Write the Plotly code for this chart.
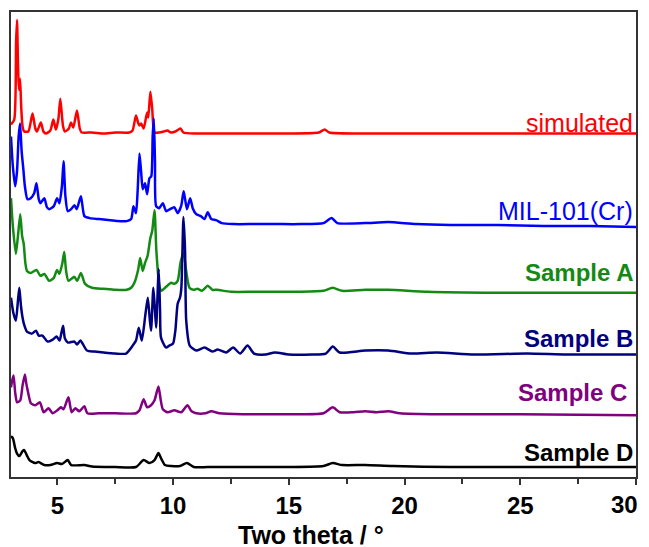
import plotly.graph_objects as go

# ---- data (two theta in degrees, offset intensities in a.u.) ----
x_sim = [3.00, 3.14, 3.22, 3.26, 3.30, 3.34, 3.39, 3.44, 3.50, 3.57, 3.75, 3.93, 4.05, 4.12, 4.29, 4.40, 4.51,
         4.70, 4.83, 4.94, 5.05, 5.13, 5.25, 5.33, 5.50, 5.59, 5.69, 5.85, 5.97, 6.05, 6.5, 7.0, 7.5, 8.11,
         8.25, 8.40, 8.50, 8.55, 8.62, 8.73, 8.88, 8.93, 9.02, 9.10, 9.20, 9.40, 9.60, 9.76, 9.90, 10.10,
         10.32, 10.45, 11.0, 12.0, 13.0, 14.0, 15.0, 16.3, 16.55, 16.75, 18.0, 20.0, 22.0, 24.0, 26.0, 28.0, 30.0]
y_sim = [354, 359, 437, 459, 417, 389, 400, 372, 352, 347, 347, 365, 350, 347, 356, 347, 345,
         348, 359, 349, 360, 380, 352, 347, 350, 356, 351, 368, 350, 346, 346, 345, 346, 346,
         348, 363, 355, 353, 355, 350, 366, 361, 387, 370, 346, 346, 347, 348, 346, 347,
         350, 346, 345, 345, 345, 345, 345, 346, 349, 346, 345, 345, 345, 345, 345, 345, 345]

x_mil = [3.00, 3.08, 3.18, 3.26, 3.33, 3.39, 3.46, 3.53, 3.60, 3.71, 3.85, 4.00, 4.10, 4.20, 4.27, 4.44,
         4.55, 4.65, 4.85, 4.99, 5.09, 5.20, 5.27, 5.35, 5.45, 5.60, 5.74, 5.84, 6.02, 6.17, 6.40, 6.8,
         7.2, 7.6, 8.0, 8.19, 8.29, 8.40, 8.47, 8.55, 8.62, 8.69, 8.79, 8.88, 8.98, 9.06, 9.12, 9.17,
         9.22, 9.27, 9.40, 9.56, 9.70, 9.87, 10.05, 10.20, 10.35, 10.46, 10.60, 10.74, 10.85, 11.00,
         11.20, 11.36, 11.50, 11.65, 11.86, 12.1, 12.6, 13.5, 14.5, 15.5, 16.5, 16.85, 17.1, 18.3,
         19.3, 20.5, 22.0, 24.0, 26.0, 28.0, 30.0]
y_mil = [342, 312, 292, 307, 342, 355, 327, 310, 292, 279, 280, 285, 295, 279, 275, 280,
         271, 269, 272, 280, 275, 292, 317, 282, 267, 269, 273, 269, 282, 262, 260, 259,
         258, 257, 257, 259, 272, 265, 287, 325, 307, 289, 295, 284, 300, 302, 342, 360,
         317, 272, 270, 275, 267, 269, 271, 265, 272, 287, 269, 280, 270, 264,
         262, 259, 266, 259, 258, 255, 254, 254, 254, 254, 255, 260, 255, 255,
         256, 254, 253, 253, 252, 252, 251]

x_a = [3.00, 3.08, 3.21, 3.30, 3.40, 3.48, 3.55, 3.62, 3.69, 3.85, 4.10, 4.27, 4.44, 4.65, 4.85, 4.99,
       5.09, 5.22, 5.30, 5.38, 5.48, 5.74, 5.86, 6.02, 6.20, 6.5, 7.0, 7.5, 8.0, 8.19, 8.33, 8.50,
       8.58, 8.69, 8.79, 8.90, 9.02, 9.10, 9.20, 9.28, 9.41, 9.50, 9.70, 9.92, 10.06, 10.20, 10.32,
       10.40, 10.46, 10.55, 10.71, 10.89, 11.05, 11.25, 11.50, 11.70, 11.90, 12.5, 13.5, 14.5, 15.5,
       16.5, 16.9, 17.3, 18.3, 19.3, 21.0, 24.0, 27.0, 30.0]
y_a = [280, 252, 224, 242, 264, 242, 234, 215, 207, 205, 208, 202, 204, 197, 200, 208,
       204, 215, 226, 207, 197, 201, 197, 205, 194, 190, 189, 188, 188, 190, 195, 209,
       220, 207, 215, 222, 240, 247, 268, 227, 192, 187, 191, 195, 194, 197, 215,
       222, 225, 210, 190, 188, 189, 187, 192, 188, 188, 186, 186, 186, 186,
       187, 190, 187, 188, 188, 186, 185, 185, 185]

x_b = [3.00, 3.10, 3.21, 3.30, 3.36, 3.43, 3.50, 3.58, 3.69, 3.90, 4.08, 4.20, 4.36, 4.58, 4.80, 4.97,
       5.10, 5.18, 5.25, 5.33, 5.46, 5.74, 5.85, 6.00, 6.28, 6.6, 7.0, 7.5, 7.97, 8.26, 8.40, 8.52,
       8.65, 8.80, 8.91, 9.00, 9.05, 9.15, 9.22, 9.27, 9.38, 9.44, 9.48, 9.70, 9.84, 10.00, 10.10,
       10.20, 10.30, 10.36, 10.45, 10.52, 10.57, 10.72, 11.00, 11.36, 11.70, 11.93, 12.3, 12.6, 12.9,
       13.22, 13.5, 14.0, 14.4, 15.0, 16.0, 16.6, 16.9, 17.2, 18.3, 19.3, 20.3, 21.4, 23.0, 25.3,
       27.0, 30.0]
y_b = [180, 165, 157, 177, 190, 172, 160, 152, 146, 144, 147, 142, 142, 136, 138, 141,
       137, 145, 152, 139, 135, 136, 133, 137, 127, 126, 125, 124, 124, 132, 137, 150,
       137, 162, 180, 157, 147, 190, 167, 150, 209, 167, 140, 130, 132, 134, 147,
       174, 180, 190, 261, 227, 157, 132, 127, 130, 126, 128, 125, 130, 124,
       132, 124, 123, 125, 123, 123, 124, 131, 125, 127, 127, 124, 125, 123, 124,
       123, 123]

x_c = [3.00, 3.05, 3.11, 3.18, 3.26, 3.40, 3.50, 3.60, 3.66, 3.72, 3.86, 4.05, 4.25, 4.41, 4.62, 4.80,
       5.00, 5.16, 5.27, 5.48, 5.62, 5.78, 5.95, 6.17, 6.30, 6.8, 7.5, 8.4, 8.55, 8.73, 8.88, 9.05,
       9.20, 9.37, 9.47, 9.56, 9.77, 10.06, 10.35, 10.62, 10.80, 11.0, 11.4, 11.65, 12.0, 13.0, 14.0,
       15.5, 16.5, 16.9, 17.2, 17.8, 18.3, 18.8, 19.3, 19.8, 21.5, 25.0, 30.0]
y_c = [90, 97, 102, 85, 75, 77, 92, 103, 94, 87, 74, 72, 75, 65, 69, 64,
       67, 70, 68, 80, 65, 69, 66, 71, 64, 64, 64, 64, 67, 78, 70, 72,
       77, 91, 77, 68, 65, 67, 65, 72, 66, 64, 64, 66, 64, 63, 63,
       63, 64, 70, 65, 65, 66, 65, 66, 64, 63, 63, 62]

x_d = [3.00, 3.08, 3.18, 3.25, 3.36, 3.50, 3.57, 3.68, 3.80, 4.04, 4.19, 4.44, 4.70, 4.99, 5.2, 5.45,
       5.60, 6.17, 6.5, 7.5, 8.4, 8.73, 8.98, 9.2, 9.37, 9.50, 9.65, 9.92, 10.3, 10.6, 10.9, 11.5,
       13.0, 15.0, 16.5, 16.9, 17.3, 18.3, 19.5, 22.0, 26.0, 30.0]
y_d = [41, 39, 29, 24, 21, 26, 27, 22, 17, 14, 15, 12, 12, 14, 13, 17,
       12, 12, 10.5, 10, 10, 17, 14, 17, 24, 18, 12, 11, 11, 14, 10, 10,
       10, 10, 11, 14, 12, 12, 11, 10, 10, 10]

tick_vals = [5, 10, 15, 20, 25, 30]
tick_text = ["5", "10", "15", "20", "25", "30"]
minor_vals = [7.5, 12.5, 17.5, 22.5, 27.5]

names = ["simulated", "MIL-101(Cr)", "Sample A", "Sample B", "Sample C", "Sample D"]
colors = ["#ff0000", "#0000ff", "#138a13", "#000080", "#800080", "#000000"]
xs = [x_sim, x_mil, x_a, x_b, x_c, x_d]
ys = [y_sim, y_mil, y_a, y_b, y_c, y_d]
label_y = [355.5, 267.5, 205, 139.5, 84.5, 24.5]
label_x = [0.998, 0.998, 0.998, 0.998, 0.988, 0.999]
label_bold = [False, False, True, True, True, True]

FONT = "Liberation Sans, Arial, sans-serif"

fig = go.Figure()
for x, y, c, n in zip(xs, ys, colors, names):
    fig.add_trace(go.Scatter(x=x, y=y, mode="lines", name=n,
                             line=dict(color=c, width=2.5, shape="spline", smoothing=0.6),
                             showlegend=False))

for n, c, yy, xx, b in zip(names, colors, label_y, label_x, label_bold):
    fig.add_annotation(x=xx, xref="paper", y=yy, yref="y", text=n, showarrow=False,
                       xanchor="right", yanchor="middle",
                       font=dict(family=FONT, size=24 if b else 25, color=c,
                                 weight="bold" if b else "normal"))

# the last tick label sits on the window edge: draw it right-aligned so it stays whole
fig.add_annotation(x=1.007, xref="paper", y=-0.060, yref="paper", text=tick_text[-1],
                   showarrow=False, xanchor="right", yanchor="middle",
                   font=dict(family=FONT, size=24, color="black", weight="bold"))

fig.add_annotation(x=0.48, xref="paper", y=-0.124, yref="paper", text="Two theta / °",
                   showarrow=False, xanchor="center", yanchor="middle",
                   font=dict(family=FONT, size=25, color="black", weight="bold"))

# the page body has an 8px default margin, so the figure is shrunk by 8px
fig.update_layout(
    width=641, height=539,
    margin=dict(l=3, r=13, t=2, b=70),
    paper_bgcolor="white", plot_bgcolor="white",
    xaxis=dict(range=[3, 30], tickmode="array", tickvals=tick_vals,
               ticktext=tick_text[:-1] + [""],
               ticks="outside", ticklen=6, tickwidth=1.5, tickcolor="#333333",
               minor=dict(tickvals=minor_vals, ticks="outside",
                          ticklen=5, tickwidth=1.5, tickcolor="#333333"),
               showline=True, linecolor="#333333", linewidth=2, mirror=True,
               showgrid=False, zeroline=False,
               tickfont=dict(family=FONT, size=24, color="black", weight="bold")),
    yaxis=dict(range=[0, 467], showticklabels=False, ticks="",
               showline=True, linecolor="#333333", linewidth=2, mirror=True,
               showgrid=False, zeroline=False),
)

fig.write_html("out.html", config={"displayModeBar": False})
